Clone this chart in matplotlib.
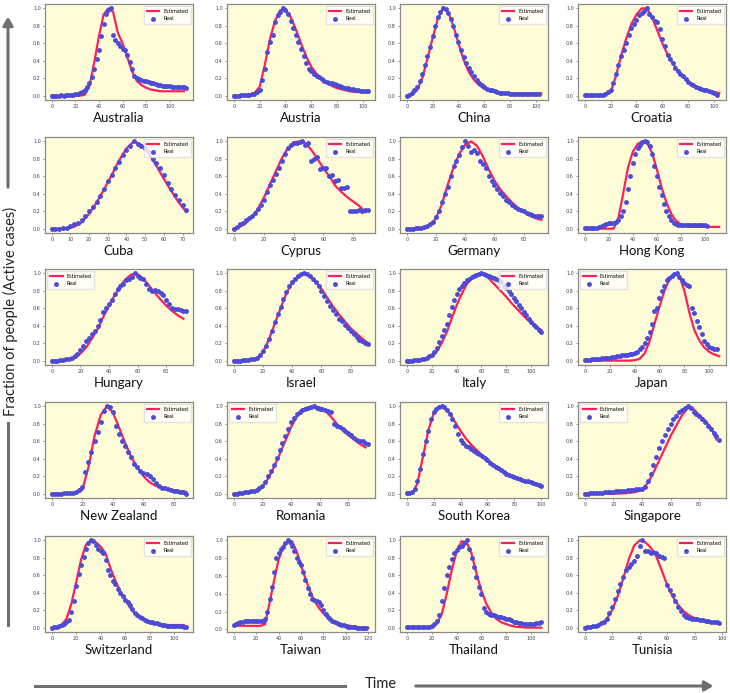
import numpy as np
import matplotlib.pyplot as plt
from matplotlib.patches import FancyArrowPatch
from matplotlib.lines import Line2D

# real data sampled every 2 days, model fit every 4 days (fraction of peak active cases)
australia_real = [0.00,0.00,0.00,0.00,0.01,0.00,0.01,0.01,0.01,0.01,
                  0.02,0.02,0.03,0.04,0.07,0.10,0.15,0.21,0.30,0.42,
                  0.52,0.68,0.82,0.93,0.98,1.00,0.69,0.64,0.60,0.57,
                  0.54,0.52,0.46,0.38,0.30,0.22,0.20,0.19,0.18,0.17,
                  0.17,0.16,0.15,0.14,0.13,0.12,0.12,0.11,0.11,0.11,
                  0.11,0.10,0.10,0.10,0.10,0.10,0.10,0.09]
australia_est = [0,0,0,0,0,0,0,0.01,0.11,0.38,0.68,0.93,1.00,0.96,0.72,0.60,0.44,0.28,0.17,0.12,
                 0.09,0.07,0.06,0.05,0.05,0.05,0.05,0.05,0.05]

austria_real = [0.0,0.0,0.0,0.005,0.005,0.01,0.01,0.015,
                0.02,0.04,0.07,0.18,0.30,0.50,0.62,0.70,0.84,0.92,0.96,1.00,
                0.98,0.94,0.86,0.78,0.70,0.62,0.54,0.45,0.37,0.31,
                0.28,0.25,0.23,0.21,0.19,0.17,0.16,0.15,0.14,0.13,
                0.12,0.11,0.10,0.09,0.09,0.08,0.08,0.07,0.06,0.05,0.05,0.05,0.05]
austria_est = [0,0,0,0.01,0.03,0.10,0.35,0.65,0.86,0.98,0.99,0.90,0.76,0.60,0.45,0.33,0.25,0.19,
               0.15,0.11,0.085,0.07,0.055,0.045,0.04,0.04,0.04]

china_real = [0.0,0.01,0.03,0.06,0.10,0.17,0.25,0.35,0.45,0.56,
              0.68,0.80,0.90,0.96,1.00,0.99,0.95,0.88,0.80,0.70,
              0.61,0.52,0.44,0.37,0.32,0.27,0.22,0.18,0.15,0.12,
              0.10,0.08,0.07,0.06,0.05,0.04,0.035,0.03,0.03,0.025,
              0.02,0.02,0.02,0.02,0.02,0.02,0.02,0.02,0.02,0.02,0.02,0.02]
china_est = [0,0.01,0.06,0.20,0.42,0.66,0.88,1.00,0.96,0.80,0.60,0.41,0.27,0.18,0.12,0.08,0.06,
             0.04,0.03,0.03,0.025,0.025,0.025,0.025,0.025,0.025,0.025]

croatia_real = [0.01,0.01,0.01,0.01,0.01,0.01,0.01,0.01,
                0.02,0.04,0.07,0.15,0.25,0.35,0.45,0.52,0.60,0.70,0.77,0.82,
                0.87,0.92,0.95,0.97,1.00,0.93,0.90,0.85,0.84,0.76,
                0.65,0.57,0.47,0.42,0.37,0.32,0.28,0.25,0.22,0.19,
                0.16,0.13,0.12,0.10,0.09,0.08,0.07,0.06,0.05,0.04,0.03,0.01]
croatia_est = [0,0,0,0,0.01,0.04,0.22,0.45,0.65,0.82,0.93,1.00,1.00,0.90,0.75,0.60,0.47,0.37,
               0.28,0.22,0.16,0.12,0.09,0.07,0.05,0.04,0.03]

cuba_real = [0.0,0.0,0.0,0.005,0.01,0.03,0.05,0.07,0.10,0.15,
             0.20,0.25,0.30,0.37,0.45,0.55,0.62,0.69,0.76,0.84,
             0.90,0.95,1.00,0.97,0.95,0.92,0.88,0.80,0.75,0.70,
             0.62,0.52,0.45,0.38,0.33,0.27,0.21]
cuba_est = [0,0,0,0.02,0.07,0.17,0.30,0.45,0.61,0.78,0.92,1.00,0.96,0.86,0.72,0.57,0.43,0.30,0.19]

cyprus_real = [0.0,0.02,0.05,0.07,0.10,0.12,0.15,0.18,0.22,0.27,
               0.33,0.42,0.50,0.56,0.63,0.70,0.78,0.86,0.92,0.96,
               0.98,0.98,0.99,1.00,0.96,0.98,0.78,0.80,0.82,0.68,
               0.69,0.70,0.60,0.62,0.55,0.56,0.47,0.47,0.48,0.20,
               0.20,0.20,0.21,0.20,0.21,0.21]
cyprus_est = [0,0.02,0.06,0.13,0.22,0.35,0.50,0.65,0.80,0.92,0.99,1.00,0.98,0.90,0.80,0.69,
              0.60,0.49,0.42,0.36,0.31,0.26,0.19]

germany_real = [0.0,0.0,0.0,0.005,0.01,0.01,0.02,0.03,0.05,0.08,
                0.13,0.20,0.30,0.40,0.48,0.60,0.72,0.77,0.84,0.93,
                1.00,0.95,0.88,0.90,0.87,0.78,0.74,0.70,0.60,0.55,
                0.50,0.45,0.41,0.37,0.33,0.30,0.27,0.25,0.23,0.21,
                0.20,0.18,0.17,0.16,0.15,0.14,0.14]
germany_est = [0,0,0.005,0.01,0.04,0.12,0.28,0.50,0.70,0.86,0.96,1.00,0.95,0.83,0.68,0.55,0.45,
               0.37,0.30,0.24,0.19,0.15,0.12,0.10]

hongkong_real = [0.01,0.01,0.01,0.01,0.01,0.01,0.02,0.03,0.04,0.05,
                 0.06,0.07,0.07,0.08,0.10,0.15,0.20,0.30,0.45,0.60,
                 0.75,0.85,0.92,0.96,0.99,1.00,0.99,0.95,0.85,0.72,
                 0.60,0.48,0.38,0.28,0.20,0.14,0.10,0.07,0.05,0.04,
                 0.04,0.04,0.04,0.04,0.04,0.04,0.04,0.04,0.04,0.04,0.04,0.03]
hongkong_est = [0,0,0,0,0,0,0,0.12,0.40,0.70,0.88,0.97,1.00,0.98,0.87,0.68,0.47,0.30,0.17,0.09,
                0.05,0.03,0.02,0.02,0.02,0.02,0.02,0.02,0.02]

hungary_real = [0.0,0.0,0.0,0.01,0.01,0.02,0.02,0.03,0.05,0.08,
                0.12,0.17,0.22,0.26,0.30,0.34,0.40,0.47,0.56,0.60,
                0.65,0.70,0.76,0.82,0.85,0.88,0.92,0.94,0.96,1.00,
                0.97,0.95,0.93,0.88,0.82,0.80,0.81,0.80,0.78,0.75,
                0.70,0.65,0.60,0.59,0.59,0.58,0.57,0.57]
hungary_est = [0,0,0.005,0.01,0.03,0.08,0.15,0.25,0.36,0.50,0.63,0.75,0.86,0.94,0.99,0.99,0.94,
               0.86,0.78,0.70,0.63,0.57,0.52,0.48]

israel_real = [0.0,0.0,0.0,0.005,0.01,0.01,0.015,0.02,0.03,0.06,
               0.11,0.17,0.25,0.34,0.44,0.53,0.62,0.71,0.79,0.86,
               0.90,0.94,0.97,0.99,1.00,0.99,0.97,0.94,0.90,0.86,
               0.80,0.74,0.68,0.63,0.58,0.53,0.48,0.45,0.41,0.37,
               0.34,0.30,0.27,0.24,0.22,0.20,0.19]
israel_est = [0,0,0.005,0.01,0.03,0.10,0.24,0.42,0.60,0.77,0.90,0.97,1.00,0.97,0.90,0.82,0.72,
              0.62,0.53,0.45,0.37,0.31,0.25,0.20]

italy_real = [0.0,0.0,0.0,0.005,0.01,0.01,0.015,0.02,0.03,0.05,
              0.07,0.10,0.15,0.21,0.28,0.35,0.42,0.52,0.62,0.70,
              0.76,0.82,0.86,0.89,0.92,0.94,0.96,0.97,0.98,0.99,
              1.00,0.99,0.98,0.97,0.96,0.95,0.93,0.92,0.90,0.85,
              0.83,0.80,0.76,0.72,0.68,0.64,0.60,0.56,0.52,0.48,
              0.44,0.41,0.38,0.35,0.33]
italy_est = [0,0,0.005,0.01,0.02,0.05,0.10,0.20,0.32,0.48,0.63,0.76,0.87,0.94,0.99,1.00,0.97,
             0.91,0.85,0.79,0.73,0.66,0.60,0.54,0.48,0.43,0.39,0.35]

japan_real = [0.01,0.01,0.01,0.015,0.015,0.02,0.02,0.025,0.03,0.03,
              0.035,0.04,0.045,0.05,0.055,0.06,0.065,0.07,0.075,0.08,
              0.09,0.10,0.13,0.16,0.20,0.26,0.33,0.42,0.57,0.60,
              0.72,0.80,0.86,0.92,0.95,0.97,0.99,1.00,0.96,0.92,
              0.89,0.87,0.86,0.60,0.55,0.45,0.38,0.30,0.23,0.19,
              0.16,0.14,0.13,0.13]
japan_est = [0,0,0,0,0,0,0,0,0,0,0.005,0.02,0.08,0.22,0.42,0.62,0.80,0.93,0.99,0.97,
             0.80,0.55,0.35,0.23,0.15,0.10,0.07,0.05]

newzealand_real = [0.0,0.0,0.0,0.0,0.005,0.005,0.01,0.01,0.02,0.04,
                   0.08,0.25,0.36,0.48,0.60,0.71,0.82,0.95,1.00,0.99,
                   0.93,0.78,0.68,0.60,0.55,0.48,0.42,0.34,0.30,0.26,
                   0.24,0.22,0.20,0.17,0.12,0.09,0.07,0.06,0.05,0.04,
                   0.03,0.03,0.02,0.02,0.0]
newzealand_est = [0,0,0,0,0,0.04,0.30,0.66,0.90,1.00,0.93,0.76,0.58,0.42,0.30,0.20,0.13,0.09,
                  0.07,0.05,0.04,0.03,0.02]

romania_real = [0.0,0.0,0.005,0.01,0.015,0.02,0.03,0.03,0.04,0.06,
                0.09,0.13,0.20,0.26,0.33,0.41,0.50,0.58,0.66,0.74,
                0.82,0.87,0.91,0.94,0.96,0.97,0.98,0.99,1.00,0.98,
                0.97,0.97,0.96,0.95,0.93,0.80,0.78,0.76,0.74,0.72,
                0.70,0.67,0.64,0.62,0.60,0.60,0.58,0.57]
romania_est = [0,0,0.005,0.01,0.03,0.08,0.17,0.30,0.45,0.60,0.76,0.88,0.96,0.99,1.00,0.99,0.95,
               0.88,0.80,0.73,0.67,0.62,0.57,0.53]

southkorea_real = [0.01,0.01,0.02,0.05,0.15,0.28,0.45,0.60,0.72,0.85,
                   0.93,0.97,0.99,1.00,0.99,0.96,0.91,0.85,0.77,0.68,
                   0.62,0.58,0.55,0.53,0.51,0.49,0.47,0.45,0.43,0.41,
                   0.38,0.35,0.33,0.31,0.29,0.27,0.25,0.23,0.21,0.20,
                   0.19,0.18,0.17,0.16,0.15,0.14,0.13,0.12,0.11,0.10,0.09]
southkorea_est = [0,0.0,0.12,0.42,0.72,0.92,1.00,0.98,0.92,0.82,0.72,0.63,0.56,0.50,0.44,0.39,
                  0.34,0.30,0.26,0.22,0.19,0.16,0.14,0.12,0.11,0.10]

singapore_real = [0.0,0.0,0.005,0.005,0.01,0.01,0.01,0.015,0.015,0.02,
                  0.02,0.025,0.03,0.03,0.035,0.04,0.04,0.045,0.05,0.05,
                  0.05,0.08,0.14,0.22,0.33,0.42,0.52,0.60,0.67,0.74,
                  0.80,0.85,0.89,0.93,0.96,0.98,1.00,0.98,0.94,0.91,
                  0.89,0.86,0.82,0.78,0.74,0.70,0.66,0.62]
singapore_est = [0,0,0,0,0,0,0,0.005,0.01,0.02,0.05,0.12,0.24,0.38,0.52,0.66,0.78,0.90,0.98,
                 0.97,0.90,0.84,0.76,0.62]

switzerland_real = [0.0,0.005,0.01,0.02,0.03,0.04,0.06,0.09,0.18,0.30,
                    0.48,0.62,0.72,0.81,0.90,0.97,1.00,0.99,0.95,0.90,
                    0.88,0.86,0.78,0.66,0.60,0.54,0.50,0.44,0.40,0.36,
                    0.32,0.29,0.26,0.21,0.17,0.14,0.12,0.11,0.09,0.08,
                    0.07,0.06,0.05,0.05,0.04,0.03,0.03,0.02,0.02,0.02,
                    0.02,0.02,0.02,0.02,0.01,0.01]
switzerland_est = [0,0.01,0.03,0.10,0.27,0.52,0.78,0.95,1.00,0.98,0.93,0.85,0.68,0.54,0.42,0.32,
                   0.23,0.16,0.11,0.08,0.06,0.05,0.04,0.035,0.03,0.03,0.03,0.03]

taiwan_real = [0.05,0.06,0.07,0.08,0.08,0.09,0.09,0.09,0.09,0.09,
               0.09,0.09,0.09,0.10,0.12,0.20,0.34,0.48,0.64,0.80,
               0.86,0.90,0.93,0.97,1.00,0.98,0.94,0.88,0.80,0.76,
               0.72,0.65,0.56,0.47,0.40,0.34,0.33,0.32,0.31,0.27,
               0.22,0.17,0.14,0.12,0.10,0.08,0.07,0.06,0.05,0.05,
               0.04,0.03,0.03,0.03,0.025,0.02,0.02,0.02,0.02,0.02]
taiwan_est = [0.04,0.04,0.04,0.04,0.04,0.04,0.04,0.06,0.30,0.55,0.78,0.93,0.99,0.99,0.88,0.72,
              0.57,0.43,0.32,0.24,0.18,0.13,0.10,0.08,0.06,0.05,0.04,0.03,0.02,0.02,0.02]

thailand_real = [0.01,0.01,0.01,0.01,0.01,0.01,0.01,0.01,0.01,0.01,
                 0.02,0.04,0.08,0.15,0.30,0.45,0.60,0.70,0.79,0.86,
                 0.89,0.92,0.93,0.97,1.00,0.90,0.80,0.70,0.58,0.47,
                 0.38,0.22,0.18,0.16,0.15,0.14,0.13,0.12,0.12,0.11,
                 0.10,0.10,0.09,0.07,0.06,0.05,0.05,0.04,0.04,0.04,
                 0.04,0.04,0.05,0.05,0.06]
thailand_est = [0,0,0,0,0,0,0.04,0.15,0.38,0.65,0.87,0.99,0.98,0.85,0.62,0.42,0.27,0.17,0.10,
                0.06,0.04,0.02,0.01,0.005,0,0,0,0]

tunisia_real = [0.0,0.01,0.01,0.02,0.02,0.03,0.05,0.07,0.10,0.17,
                0.24,0.33,0.42,0.50,0.58,0.66,0.70,0.73,0.76,0.82,
                0.93,1.00,0.88,0.88,0.86,0.87,0.86,0.82,0.81,0.80,
                0.49,0.43,0.37,0.30,0.24,0.19,0.15,0.12,0.11,0.10,
                0.10,0.10,0.09,0.09,0.08,0.08,0.07,0.07,0.06,0.05]
tunisia_est = [0,0.005,0.015,0.04,0.10,0.20,0.36,0.56,0.78,0.94,1.00,0.98,0.92,0.82,0.66,0.49,
               0.36,0.26,0.19,0.14,0.11,0.09,0.07,0.06,0.05]

countries = ['Australia', 'Austria', 'China', 'Croatia',
             'Cuba', 'Cyprus', 'Germany', 'Hong Kong',
             'Hungary', 'Israel', 'Italy', 'Japan',
             'New Zealand', 'Romania', 'South Korea', 'Singapore',
             'Switzerland', 'Taiwan', 'Thailand', 'Tunisia']
reals = [australia_real, austria_real, china_real, croatia_real,
         cuba_real, cyprus_real, germany_real, hongkong_real,
         hungary_real, israel_real, italy_real, japan_real,
         newzealand_real, romania_real, southkorea_real, singapore_real,
         switzerland_real, taiwan_real, thailand_real, tunisia_real]
ests = [australia_est, austria_est, china_est, croatia_est,
        cuba_est, cyprus_est, germany_est, hongkong_est,
        hungary_est, israel_est, italy_est, japan_est,
        newzealand_est, romania_est, southkorea_est, singapore_est,
        switzerland_est, taiwan_est, thailand_est, tunisia_est]
legend_left = ['Hungary', 'Japan', 'Romania', 'Singapore']

W, H = 730, 693
fig = plt.figure(figsize=(W/100, H/100), dpi=100)

col_left = [45, 227, 400, 578]
row_top = [4, 137, 269, 402, 536]
aw, ah = 148, 96

red = '#ff1f5a'
blue = '#4b4bd8'

for i, name in enumerate(countries):
    r, c = divmod(i, 4)
    ax = fig.add_axes([col_left[c]/W, 1-(row_top[r]+ah)/H, aw/W, ah/H])
    ax.set_facecolor('#fffdd8')
    real = np.array(reals[i])
    est = np.array(ests[i])
    ax.plot(np.arange(len(est))*4, est, color=red, lw=1.6, label='Estimated', zorder=2)
    ax.plot(np.arange(len(real))*2, real, 'o', color=blue, ms=2.5, label='Real', zorder=3)
    ax.set_yticks([0, 0.2, 0.4, 0.6, 0.8, 1.0])
    ax.tick_params(labelsize=3.5, length=1.5, width=0.4, pad=1.5, colors='#444')
    for s in ax.spines.values():
        s.set_color('#8a8a8a')
        s.set_linewidth(0.9)
    loc = 'upper left' if name in legend_left else 'upper right'
    ax.legend(loc=loc, fontsize=3.5, handlelength=2.6, borderpad=0.5,
              labelspacing=0.5, framealpha=0.8, edgecolor='#dddddd', fancybox=False)
    ax.text(0.5, -0.19, name, transform=ax.transAxes, ha='center', va='center',
            fontsize=9.5, family='Lato', color='#111')

gray = '#6f6f6f'
# vertical arrow with label
fig.add_artist(FancyArrowPatch((8/W, 1-190/H), (8/W, 1-14/H), transform=fig.transFigure,
                               arrowstyle='-|>,head_length=5,head_width=3', color=gray, lw=2.2))
fig.add_artist(Line2D([8/W, 8/W], [1-423/H, 1-625/H], transform=fig.transFigure, color=gray, lw=2.2))
fig.text(10/W, 1-311/H, 'Fraction of people (Active cases)', rotation=90, ha='center', va='center',
         fontsize=10.5, family='Lato', color='#222')

# horizontal arrow with label
fig.add_artist(Line2D([35/W, 345/W], [1-686/H, 1-686/H], transform=fig.transFigure, color=gray, lw=2.2))
fig.add_artist(FancyArrowPatch((413/W, 1-686/H), (716/W, 1-686/H), transform=fig.transFigure,
                               arrowstyle='-|>,head_length=5,head_width=3', color=gray, lw=2.2))
fig.text(381/W, 1-684/H, 'Time', ha='center', va='center', fontsize=10.5, family='Lato', color='#222')

fig.savefig('out.png', dpi=100, facecolor='white')
